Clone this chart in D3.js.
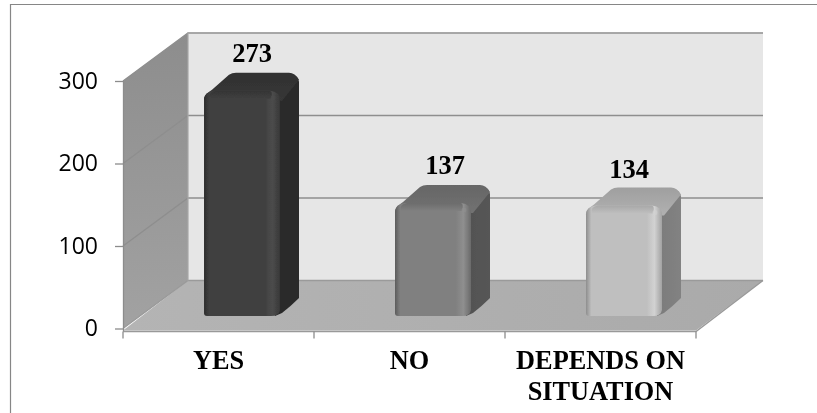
<!DOCTYPE html>
<html><head><meta charset="utf-8">
<script src="https://cdn.jsdelivr.net/npm/d3@7"></script>
<style>html,body{margin:0;padding:0;background:#fff}svg{display:block}</style>
</head><body><svg id="c" width="817" height="413"></svg>
<script>
const categories = ["YES", "NO", "DEPENDS ON SITUATION"];
const values = [273, 137, 134];
const yTicks = [0, 100, 200, 300];
const faceColors = [["#2e2e2e","#404040","#404040","#4c4c4c","#383838"],["#5c5c5c","#808080","#808080","#8f8f8f","#6a6a6a"],["#8e8e8e","#bfbfbf","#bfbfbf","#d2d2d2","#a2a2a2"]];
const sideColors = ["#2b2b2b","#565656","#828282"];
const topColors = ["#343434","#6c6c6c","#a8a8a8"];
const labelShift = [[4,0],[6,0],[-1,2]];

const W=817,H=413;
const svg=d3.select("#c");
const defs=svg.append("defs");
defs.append("filter").attr("id","soft").attr("x",-0.02).attr("y",-0.02).attr("width",1.04).attr("height",1.04)
  .append("feGaussianBlur").attr("stdDeviation",0.45);
const root=svg.append("g").attr("filter","url(#soft)");
const L=123,R=696,Y0=328.5,Y300=81,DX=65,DY=48;
const x=d3.scaleBand().domain(categories).range([L,R]);
const y=d3.scaleLinear().domain([0,300]).range([Y0,Y300]);
const grey="#8c8c8c";

root.append("path").attr("d",`M10.5,${H}V4.5H${W}`).attr("fill","none").attr("stroke","#868686").attr("stroke-width",1.2);

const bx=L+DX, by=v=>y(v)-DY;
const wallG=defs.append("linearGradient").attr("id","wall").attr("x1",0).attr("x2",0).attr("y1",0).attr("y2",1);
wallG.append("stop").attr("offset",0).attr("stop-color","#8d8d8d");
wallG.append("stop").attr("offset",1).attr("stop-color","#a2a2a2");
const floorG=defs.append("linearGradient").attr("id","floor").attr("x1",0).attr("x2",1).attr("y1",0).attr("y2",0);
floorG.append("stop").attr("offset",0).attr("stop-color","#b4b4b4");
floorG.append("stop").attr("offset",1).attr("stop-color","#aaaaaa");
root.append("rect").attr("x",bx).attr("y",by(300)).attr("width",R+DX+2-bx).attr("height",by(0)-by(300)).attr("fill","#e6e6e6");
root.append("path").attr("d",`M${L},${y(0)}L${bx},${by(0)}V${by(300)}L${L},${y(300)}Z`).attr("fill","url(#wall)");
root.append("path").attr("d",`M${L},${y(0)+2}L${bx},${by(0)}H${R+DX+2}L${R},${y(0)+2}Z`).attr("fill","url(#floor)");
yTicks.forEach(t=>{
  root.append("path").attr("fill","none").attr("stroke",t===0?"#9a9a9a":"#8e8e8e").attr("stroke-width",1.3)
    .attr("d",`M${L},${y(t)}L${bx},${by(t)}H${R+DX+2}`);
});
root.append("path").attr("d",`M${bx},${by(0)}V${by(300)}H${R+DX+2}`).attr("stroke","#a8a8a8").attr("stroke-width",1.2).attr("fill","none");

const ax=root.append("g").attr("transform",`translate(${L},0)`).call(d3.axisLeft(y).tickValues(yTicks).tickSize(8).tickPadding(17).tickFormat(d3.format("d")));
ax.select(".domain").attr("stroke",grey).attr("stroke-width",1.3).attr("d",`M0.5,${y(300)}V${y(0)+3}`);
ax.selectAll(".tick line").attr("stroke",grey).attr("stroke-width",1.3);
ax.selectAll("text").attr("font-family","'Open Sans', sans-serif").attr("font-size",23).attr("fill","#000");
const base=root.append("g");
base.append("path").attr("d",`M${L},${y(0)+3}H${R}L${R+DX+2},${by(0)}`).attr("fill","none").attr("stroke","#999").attr("stroke-width",1.4);
[L,...categories.map(c=>x(c)+x.bandwidth())].forEach(t=>{
  base.append("line").attr("x1",t).attr("x2",t).attr("y1",y(0)+3).attr("y2",y(0)+10).attr("stroke",grey).attr("stroke-width",1.3);
});

const BW=76,OFF=81,D=18,FLOORY=12.5;
const hY=v=>y(v)-FLOORY;
categories.forEach((c,i)=>{
  const v=values[i], X0=x(c)+OFF, X1=X0+BW, T=hY(v), B=y(0)-FLOORY;
  const fg=defs.append("linearGradient").attr("id","f"+i);
  [[0,0],[0.07,1],[0.8,2],[0.9,3],[1,4]].forEach(([o,k])=>fg.append("stop").attr("offset",o).attr("stop-color",faceColors[i][k]));
  const sg=defs.append("linearGradient").attr("id","s"+i);
  sg.append("stop").attr("offset",0).attr("stop-color",d3.color(sideColors[i]).darker(0.15));
  sg.append("stop").attr("offset",1).attr("stop-color",sideColors[i]);
  const tg=defs.append("linearGradient").attr("id","t"+i).attr("x1",0).attr("x2",0).attr("y1",0).attr("y2",1);
  tg.append("stop").attr("offset",0).attr("stop-color",d3.color(topColors[i]).darker(0.15));
  tg.append("stop").attr("offset",1).attr("stop-color",d3.color(topColors[i]).brighter(0.15));
  const bev=defs.append("linearGradient").attr("id","b"+i).attr("x1",0).attr("x2",0).attr("y1",0).attr("y2",1);
  bev.append("stop").attr("offset",0).attr("stop-color",topColors[i]);
  bev.append("stop").attr("offset",1).attr("stop-color",faceColors[i][1]);
  const g=root.append("g");
  g.append("path").attr("d",`M${X1-3},${T+8}L${X1+D-8},${T-D+3}Q${X1+D-1},${T-D+1} ${X1+D+1},${T-D+9}V${B-D}Q${X1+10},${B-9} ${X1+2},${B-3}L${X1-5},${B}Z`).attr("fill",`url(#s${i})`);
  g.append("path").attr("d",`M${X0},${T+7}Q${X0+2},${T+3} ${X0+8},${T-1}L${X0+25},${T-D+2}Q${X0+28},${T-D} ${X0+32},${T-D}H${X1+D-9}Q${X1+D-3},${T-D} ${X1+D+1},${T-D+7}L${X1+2},${T+10}H${X0}Z`).attr("fill",`url(#t${i})`);
  const front=`M${X0},${B-3}V${T+9}Q${X0},${T+1} ${X0+10},${T}H${X1-10}Q${X1},${T+1} ${X1},${T+10}V${B-6}Q${X1-1},${B} ${X1-9},${B}H${X0+3}Q${X0},${B} ${X0},${B-3}Z`;
  g.append("path").attr("d",front).attr("fill",`url(#f${i})`);
  g.append("path").attr("d",`M${X0+6},${T+8}Q${X0+4},${T+1} ${X0+12},${T}H${X1-10}Q${X1-7},${T+1} ${X1-9},${T+8}Z`).attr("fill",`url(#b${i})`);
  g.append("circle").attr("cx",X1-7).attr("cy",T+7).attr("r",2.5).attr("fill",faceColors[i][3]).attr("opacity",0.6);
  root.append("text").attr("x",X0+44+labelShift[i][0]).attr("y",T-29+labelShift[i][1]).attr("text-anchor","middle").attr("font-family","'Liberation Serif',serif").attr("font-weight","bold").attr("font-size",26.5).attr("fill","#000").text(v);
});

const catLines=c=>c==="DEPENDS ON SITUATION"?["DEPENDS ON","SITUATION"]:[c];
categories.forEach(c=>{
  const cx=x(c)+x.bandwidth()/2;
  const t=root.append("text").attr("text-anchor","middle").attr("font-family","'Liberation Serif',serif").attr("font-weight","bold").attr("font-size",26.3).attr("fill","#000");
  catLines(c).forEach((l,j)=>t.append("tspan").attr("x",cx).attr("y",369+j*31).text(l));
});
</script></body></html>
